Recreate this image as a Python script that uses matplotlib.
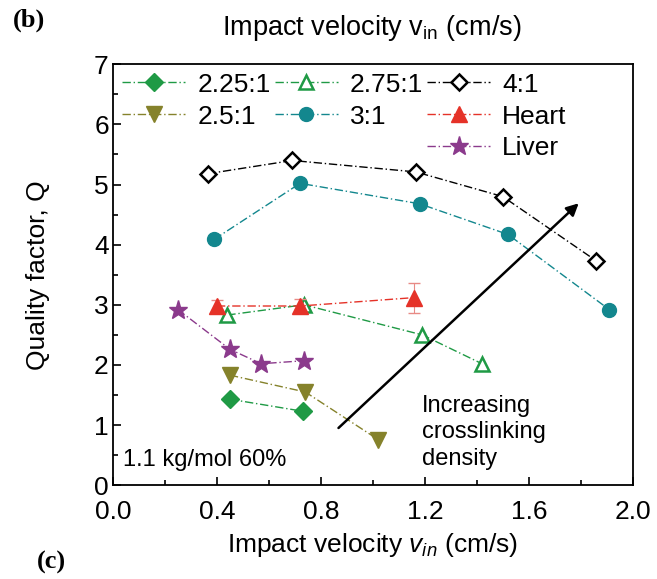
import numpy as np
import matplotlib
matplotlib.use('Agg')
import matplotlib.pyplot as plt
from matplotlib.lines import Line2D

plt.rcParams['font.family'] = ['Liberation Sans', 'DejaVu Sans']
plt.rcParams['mathtext.fontset'] = 'custom'
plt.rcParams['mathtext.rm'] = 'Liberation Sans'
plt.rcParams['mathtext.it'] = 'Liberation Sans:italic'

# data
x_225 = [0.45, 0.73]
q_225 = [1.43, 1.23]
x_25 = [0.45, 0.74, 1.02]
q_25 = [1.83, 1.55, 0.76]
x_275 = [0.44, 0.735, 1.19, 1.42]
q_275 = [2.83, 3.00, 2.50, 2.02]
x_3 = [0.39, 0.72, 1.18, 1.52, 1.91]
q_3 = [4.09, 5.02, 4.68, 4.17, 2.92]
x_4 = [0.365, 0.69, 1.165, 1.50, 1.86]
q_4 = [5.18, 5.40, 5.21, 4.80, 3.73]
x_heart = [0.40, 0.72, 1.16]
q_heart = [2.98, 2.98, 3.12]
err_heart = [0.10, 0.12, 0.25]
x_liver = [0.25, 0.45, 0.57, 0.735]
q_liver = [2.92, 2.26, 2.02, 2.07]

ls = (0, (6, 2, 1, 2))
red = '#e53228'

fig = plt.figure(figsize=(6.57, 5.79), dpi=100)
ax = fig.add_axes([0.172, 0.162, 0.791, 0.727])

ax.plot(x_225, q_225, linestyle=ls, lw=1, color='#1f9a45', marker='D', ms=9,
        mfc='#1f9a45', mec='#1f9a45', label='2.25:1')
ax.plot(x_25, q_25, linestyle=ls, lw=1, color='#85822b', marker='v', ms=11,
        mfc='#85822b', mec='#85822b', label='2.5:1')
ax.plot(x_275, q_275, linestyle=ls, lw=1, color='#1f9a45', marker='^', ms=10,
        mfc='white', mec='#1f9a45', mew=1.8, label='2.75:1')
ax.plot(x_3, q_3, linestyle=ls, lw=1, color='#13878e', marker='o', ms=10,
        mfc='#13878e', mec='#13878e', label='3:1')
ax.plot(x_4, q_4, linestyle=ls, lw=1, color='black', marker='D', ms=8,
        mfc='white', mec='black', mew=1.8, label='4:1')
ax.errorbar(x_heart, q_heart, yerr=err_heart, linestyle=ls, lw=1, color=red,
            marker='^', ms=11, mfc=red, mec=red, capsize=4,
            elinewidth=0.8, ecolor='#e88a85')
ax.plot(x_liver, q_liver, linestyle=ls, lw=1, color='#8b3a8c', marker='*', ms=14,
        mfc='#8b3a8c', mec='#8b3a8c', label='Liver')

ax.annotate('', xy=(1.80, 4.72), xytext=(0.86, 0.92),
            arrowprops=dict(arrowstyle='-|>', color='black', lw=1.8,
                            mutation_scale=18))
ax.text(1.19, 1.50, 'Increasing\ncrosslinking\ndensity', fontsize=17,
        va='top', ha='left', linespacing=1.25)
ax.text(0.04, 0.42, '1.1 kg/mol 60%', fontsize=17, va='center', ha='left')

ax.set_xlim(0, 2.0)
ax.set_ylim(0, 7)
ax.set_xticks(np.arange(0, 2.01, 0.4))
ax.set_xticks(np.arange(0, 2.01, 0.2), minor=True)
ax.set_yticks(np.arange(0, 8, 1))
ax.set_yticks(np.arange(0, 7.01, 0.5), minor=True)
ax.xaxis.set_major_formatter(matplotlib.ticker.FormatStrFormatter('%.1f'))
ax.tick_params(direction='in', labelsize=19, length=6, width=1.2, pad=3)
ax.tick_params(axis='x', pad=11)
ax.tick_params(which='minor', direction='in', length=3.5, width=1.2)
for s in ax.spines.values():
    s.set_linewidth(1.3)

ax.set_ylabel('Quality factor, Q', fontsize=19, labelpad=32)
ax.set_xlabel(r'Impact velocity $\mathit{v}_{\mathit{in}}$ (cm/s)', fontsize=19, labelpad=5)

fig.text(0.566, 1 - 35 / 579, r'Impact velocity v$_{\mathrm{in}}$ (cm/s)', fontsize=19.5,
         ha='center', va='baseline')
fig.text(0.02, 0.965, '(b)', fontsize=19, fontweight='bold', family='Liberation Serif',
         ha='left', va='center')
fig.text(0.056, 0.029, '(c)', fontsize=19, fontweight='bold', family='Liberation Serif',
         ha='left', va='center')

h, l = ax.get_legend_handles_labels()
d = dict(zip(l, h))
d['Heart'] = Line2D([], [], linestyle=ls, lw=1, color=red, marker='^', ms=11,
                    mfc=red, mec=red)
blank = Line2D([], [], linestyle='none')
order = ['2.25:1', '2.5:1', None, '2.75:1', '3:1', None, '4:1', 'Heart', 'Liver']
handles = [d[k] if k else blank for k in order]
labels = [k if k else '' for k in order]
ax.legend(handles, labels, ncol=3, loc='upper left', bbox_to_anchor=(-0.018, 1.024),
          frameon=False, fontsize=19, handlelength=2.4, handletextpad=0.45,
          columnspacing=0.15, labelspacing=0.3, borderpad=0.2)

fig.savefig('out.png', dpi=100)
